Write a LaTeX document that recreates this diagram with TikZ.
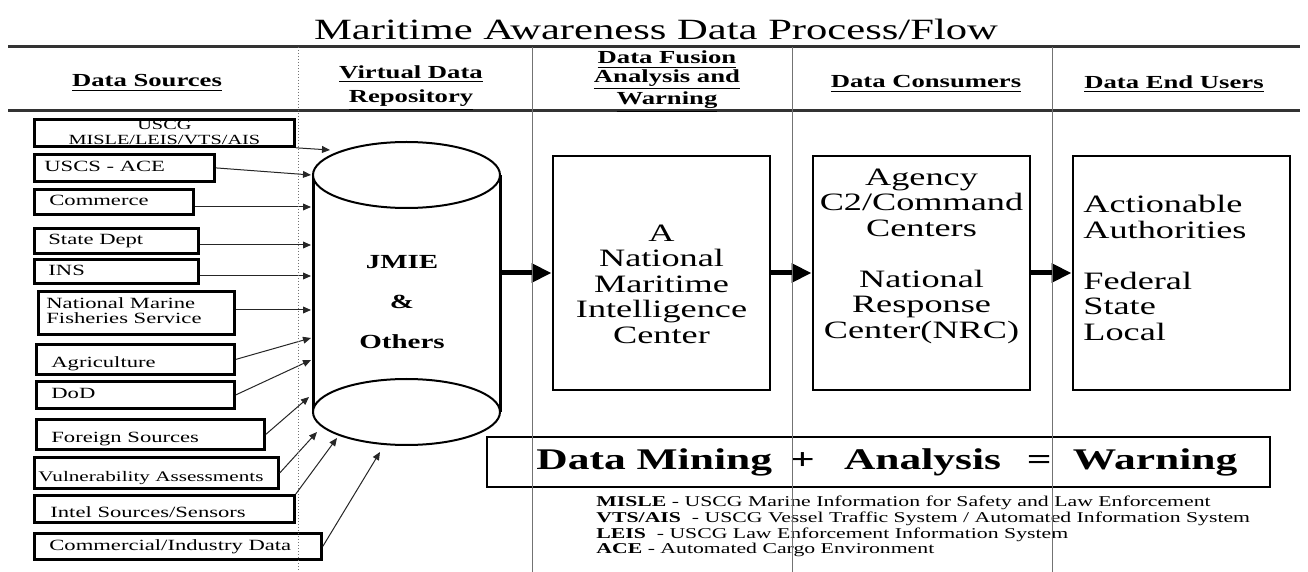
\documentclass[tikz,border=0pt]{standalone}
\usepackage{fontspec}
\setmainfont{Liberation Serif}[FakeStretch=1.45]
\usetikzlibrary{arrows.meta}
\newcommand\fs[2]{\fontsize{#1}{#2}\selectfont}
\newcommand\srcin[3]{\makebox[#1][l]{\hspace{#2}#3}}
\tikzset{
  src/.style={draw=black, line width=1.4pt, anchor=north west, inner sep=0pt, font=\fs{7.8pt}{7.5pt}},
  one/.style={text height=5.2pt, text depth=1.5pt},
  low/.style={text height=10pt, text depth=1.5pt},
  feed/.style={-{Triangle[length=4pt,width=3.4pt]}, line width=0.5pt, draw=black!85},
  bigbox/.style={draw, line width=1.3pt, minimum width=108.5pt, minimum height=117pt, inner sep=0pt},
  boxtxt/.style={font=\fs{12.5pt}{12.75pt}, inner sep=0pt},
  flow/.style={-{Triangle[length=10pt,width=9pt]}, line width=2.5pt},
  hdr/.style={font=\bfseries\fs{9.2pt}{9.1pt}, align=center, inner sep=0pt},
  hrule/.style={line width=1.5pt, draw=black!80},
  divider/.style={line width=0.5pt, draw=black!55},
}
\begin{document}
\begin{tikzpicture}[x=0.5pt,y=-0.5pt]
\useasboundingbox[fill=white] (0,0) rectangle (1308,572);

% title and header rules
\node[font=\fs{14.7pt}{16pt}, anchor=base, inner sep=0pt] (title) at (656,40) {Maritime Awareness Data Process/Flow};
\draw[hrule] (8,47) -- (1300,47);
\draw[hrule] (8,111) -- (1300,111);

% column headers
\node[hdr] (h1) at (147,83) {\underline{Data Sources}};
\node[hdr] (h2) at (411,88) {\underline{Virtual Data}\\[3pt]\underline{Repository}};
\node[hdr] (h3) at (667,82) {\underline{Data Fusion}\\\underline{Analysis and}\\\underline{Warning}};
\node[hdr] (h4) at (926,84) {\underline{Data Consumers}};
\node[hdr] (h5) at (1174,84) {\underline{Data End Users}};

% cylinder
\node[minimum width=93.5pt, minimum height=151.5pt, inner sep=0pt] (cyl) at (406.5,293.5) {};
\draw[line width=1.5pt] (313,175) -- (313,412);
\draw[line width=1.5pt] (500,175) -- (500,412);
\draw[line width=1pt, fill=white] (406.5,175) ellipse [x radius=46.75pt, y radius=16.5pt];
\draw[line width=1pt, fill=white] (406.5,412) ellipse [x radius=46.75pt, y radius=16.5pt];
\node[font=\bfseries\fs{10pt}{20pt}, align=center, inner sep=0pt] (jmie) at (402,302) {JMIE\\\&\\Others};

% source boxes
\node[src, minimum width=130pt, minimum height=13.5pt, font=\fs{7pt}{7.5pt}, align=center] (s1) at (33,118) {USCG\\MISLE/LEIS/VTS/AIS};
\node[src, one, minimum width=90pt, minimum height=13.5pt] (s2) at (33,153) {\srcin{90pt}{5pt}{USCS - ACE}};
\node[src, one, minimum width=79.5pt, minimum height=12.5pt] (s3) at (33,188) {\srcin{79.5pt}{7.5pt}{Commerce}};
\node[src, one, minimum width=82pt, minimum height=12.5pt] (s4) at (33,227) {\srcin{82pt}{7pt}{State Dept}};
\node[src, one, minimum width=82pt, minimum height=12pt] (s5) at (33,258) {\srcin{82pt}{7pt}{INS}};
\node[src, minimum width=98pt, minimum height=21.5pt] (s6) at (37,290) {\srcin{98pt}{4pt}{\begin{tabular}[c]{@{}l@{}}National Marine\\Fisheries Service\end{tabular}}};
\node[src, low, minimum width=99pt, minimum height=15pt] (s7) at (35,343) {\srcin{99pt}{7.5pt}{Agriculture}};
\node[src, one, minimum width=99pt, minimum height=13.5pt] (s8) at (35,380) {\srcin{99pt}{7.5pt}{DoD}};
\node[src, low, minimum width=114pt, minimum height=15pt] (s9) at (35,418) {\srcin{114pt}{7.5pt}{Foreign Sources}};
\node[src, low, minimum width=122pt, minimum height=15.5pt, font=\fs{7.3pt}{7.5pt}] (s10) at (33,456) {\srcin{122pt}{2pt}{Vulnerability Assessments}};
\node[src, low, minimum width=130pt, minimum height=13.5pt] (s11) at (33,494) {\srcin{130pt}{8pt}{Intel Sources/Sensors}};
\node[src, one, minimum width=143.5pt, minimum height=13pt] (s12) at (33,532) {\srcin{143.5pt}{7.5pt}{Commercial/Industry Data}};

% feed arrow tips on the repository
\coordinate (t1) at (330,150);
\coordinate (t2) at (311,175);
\coordinate (t3) at (311,207);
\coordinate (t4) at (311,245);
\coordinate (t5) at (311,276);
\coordinate (t6) at (311,310);
\coordinate (t7) at (311,338);
\coordinate (t8) at (311,360);
\coordinate (t9) at (309,397);
\coordinate (t10) at (317,432);
\coordinate (t11) at (337,438);
\coordinate (t12) at (380,452);

\draw[feed] (s1.south east) -- (t1);
\draw[feed] (s2.east) -- (t2);
\draw[feed] (s3.east |- t3) -- (t3);
\draw[feed] (s4.east |- t4) -- (t4);
\draw[feed] (s5.east |- t5) -- (t5);
\draw[feed] (s6.east |- t6) -- (t6);
\draw[feed] (s7.east) -- (t7);
\draw[feed] (s8.east) -- (t8);
\draw[feed] (s9.east) -- (t9);
\draw[feed] (s10.east) -- (t10);
\draw[feed] (s11.north east) -- (t11);
\draw[feed] (s12.east) -- (t12);

% main boxes
\node[bigbox] (nmic) at (661.5,273) {};
\node[boxtxt, align=center] (nmict) at (661.5,284) {A\\National\\Maritime\\Intelligence\\Center};
\node[bigbox] (cons) at (921.5,273) {};
\node[boxtxt, align=center] (const) at (921.5,256) {Agency\\C2/Command\\Centers\\[12.75pt]National\\Response\\Center(NRC)};
\node[bigbox] (users) at (1181.5,273) {};
\node[boxtxt, align=left, anchor=west] (userst) at (1083,268) {Actionable\\Authorities\\[12.75pt]Federal\\State\\Local};

\draw[flow] (cyl.east |- nmic.west) -- (nmic.west);
\draw[flow] (nmic.east) -- (cons.west);
\draw[flow] (cons.east) -- (users.west);

% banner and notes
\node[draw, line width=1.3pt, minimum width=391.5pt, minimum height=25pt, inner sep=0pt] (banner) at (878.5,462) {};
\node[font=\bfseries\fs{15pt}{16pt}, anchor=west, inner sep=0pt] (bannert) at (536,462) {Data Mining\hspace{9pt}+\hspace{14.6pt}Analysis\hspace{12.9pt}=\hspace{10.6pt}Warning};
\node[anchor=north west, align=left, font=\fs{7.5pt}{7.8pt}, inner sep=0pt] (notes) at (596,496) {\textbf{MISLE} - USCG Marine Information for Safety and Law Enforcement\\\textbf{VTS/AIS} \ - USCG Vessel Traffic System / Automated Information System\\\textbf{LEIS} \ - USCG Law Enforcement Information System\\\textbf{ACE} - Automated Cargo Environment};

% column dividers
\draw[divider, densely dotted] (298,47) -- (298,572);
\draw[divider] (532,47) -- (532,572);
\draw[divider] (792,47) -- (792,572);
\draw[divider] (1052,47) -- (1052,572);
\end{tikzpicture}
\end{document}
